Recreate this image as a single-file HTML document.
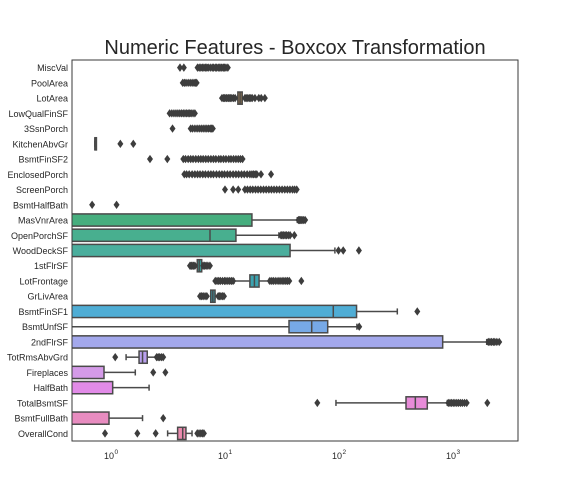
<!DOCTYPE html>
<html><head><meta charset="utf-8"><style>
body{margin:0;background:#fff;}
svg{display:block;font-family:"Liberation Sans",sans-serif;}
</style></head><body>
<svg id="chart" width="576" height="504" xmlns="http://www.w3.org/2000/svg">
<defs><clipPath id="plotclip"><rect x="72" y="60" width="446" height="381"/></clipPath></defs>
<text x="295" y="54" font-size="20" text-anchor="middle" fill="#262626">Numeric Features - Boxcox Transformation</text>
<g id="marks" clip-path="url(#plotclip)"></g>
<rect x="72" y="60" width="446" height="381" fill="none" stroke="#3a3a3a" stroke-width="1"/>
<g id="labels"></g>
</svg>
<script>
const categories=["MiscVal","PoolArea","LotArea","LowQualFinSF","3SsnPorch","KitchenAbvGr","BsmtFinSF2","EnclosedPorch","ScreenPorch","BsmtHalfBath","MasVnrArea","OpenPorchSF","WoodDeckSF","1stFlrSF","LotFrontage","GrLivArea","BsmtFinSF1","BsmtUnfSF","2ndFlrSF","TotRmsAbvGrd","Fireplaces","HalfBath","TotalBsmtSF","BsmtFullBath","OverallCond"];
const q1Values=[0,0,13.1,0,0,0.73,0,0,0,0,0,0,0,5.77,16.7,7.57,0,36.8,0,1.78,0,0,391,0,3.88];
const medianValues=[0,0,13.7,0,0,0.73,0,0,0,0,0,7.46,0,6.0,18.3,7.9,90,58.2,0,1.91,0,0,472,0,4.3];
const q3Values=[0,0,14.3,0,0,0.73,0,0,0,0,17.4,12.6,37.6,6.31,20.1,8.26,144,80.4,820,2.1,0.877,1.045,601,0.97,4.59];
const whiskerLow=[0,0,13.1,0,0,0.73,0,0,0,0,0,0,0,5.77,12.1,7.57,0,0,0,1.37,0,0,95,0,3.17];
const whiskerHigh=[0,0,14.3,0,0,0.73,0,0,0,0,43.5,30,93,6.31,24.7,8.26,328,145,1995,2.54,1.65,2.18,900,1.91,5.19];
const fliers=[
[4.07,4.4,5.8,6.0,6.2,6.4,6.6,6.8,7,7.2,7.5,7.8,8,8.3,8.5,8.8,9,9.3,9.5,9.8,10,10.3,10.7],
[4.3,4.45,4.6,4.8,5.0,5.2,5.4,5.55,5.7],
[9.5,9.8,10,10.3,10.5,10.8,11,11.3,11.6,12,12.4,15.1,15.5,16,16.5,17,17.5,18.5,20,21,22.6],
[3.3,3.45,3.6,3.75,3.9,4.05,4.2,4.35,4.5,4.65,4.8,4.95,5.1,5.3,5.5],
[3.5,5.05,5.25,5.5,5.75,6,6.25,6.5,6.75,7,7.25,7.5,7.7,7.9],
[1.22,1.585],
[2.22,3.15,4.35,4.55,4.8,5.05,5.3,5.6,5.9,6.2,6.5,6.85,7.2,7.6,8,8.4,8.9,9.3,9.8,10.3,10.9,11.4,12,12.6,13.2,13.8,14.4],
[4.44,4.65,4.9,5.2,5.5,5.8,6.1,6.45,6.8,7.2,7.6,8,8.5,9,9.5,10,10.6,11.2,11.9,12.6,13.3,14.1,14.9,15.8,16.7,17.4,18,18.6,19.2,20.9,25.6],
[10.1,11.9,13.2,15.1,15.9,16.8,17.7,18.7,19.7,20.8,22,23.2,24.5,25.8,27.2,28.7,30.3,32,33.8,35.6,37.5,39.5,41.2,43],
[0.69,1.13],
[44.5,45.5,46,47,48,49.5,51],
[31.3,32,33,34,35,36.3,37.6,41],
[100,110,151],
[4.98,5.1,5.2,5.35,5.5,6.5,6.7,6.9,7.15,7.45],
[8.3,8.6,8.9,9.2,9.6,10,10.3,10.7,11.1,11.5,11.9,25,26,27,28.2,29.5,30.7,32,33.2,34.5,35.7,37,47.2],
[6.1,6.3,6.5,6.75,7.0,8.8,9.05,9.3,9.6,9.9],
[491],
[152],
[2060,2130,2200,2280,2350,2450,2570],
[1.10,2.54,2.62,2.7,2.8,2.9],
[2.37,3.03],
[],
[65.2,918,950,980,1015,1050,1090,1130,1175,1220,1275,1333,2020],
[2.9],
[0.895,1.72,2.49,5.77,5.98,6.2,6.4,6.6]
];
const colors=["#e88a8a","#d99a5a","#9c7a4e","#c0a04a","#a8a84a","#8eae4a","#6db04a","#4ab05a","#45ae6a","#44ae74","#46ae7e","#48af8f","#4aae9d","#3a9e9a","#3ba3b0","#3a9aa8","#4fadd5","#77a9e6","#a3a8ec","#b9a0ee","#d49ae8","#e28be8","#e78bd8","#e88cc0","#eb8bae"];
const tickExps=[0,1,2,3];

const NS="http://www.w3.org/2000/svg";
const L=72,R=518,T=60,B=441;
const x0=110.5,dec=114;
function xs(v){ if(v<=0) return L-2; return Math.max(L-2,Math.min(R+2,x0+Math.log10(v)*dec)); }
const rowH=(B-T)/categories.length;
function yc(i){return T+rowH*(i+0.5);}
function mk(tag,attrs,parent){const e=document.createElementNS(NS,tag);for(const k in attrs)e.setAttribute(k,attrs[k]);parent.appendChild(e);return e;}
const marks=document.getElementById('marks');
const labels=document.getElementById('labels');
const edge="#4a4a4a";
categories.forEach((c,i)=>{
  const y=yc(i),h=rowH*0.8;
  const g=mk('g',{},marks);
  
  
  const hasBox=q3Values[i]>0;
  if(hasBox){
    const wl=whiskerLow[i],wh=whiskerHigh[i];
    const a=xs(q1Values[i]),b=xs(q3Values[i]);
    const ln=mk('line',{x1:xs(wl),x2:a,y1:y,y2:y,stroke:edge,'stroke-width':1.5},g);
    
    
    const ln2=mk('line',{x1:b,x2:xs(wh),y1:y,y2:y,stroke:edge,'stroke-width':1.5},g);
    
    
    if(wl>0){const cap=mk('line',{x1:xs(wl),x2:xs(wl),y1:y-h/4,y2:y+h/4,stroke:edge,'stroke-width':1.5},g);
      }
    if(wh>0){const cap=mk('line',{x1:xs(wh),x2:xs(wh),y1:y-h/4,y2:y+h/4,stroke:edge,'stroke-width':1.5},g);
      }
    const r=mk('rect',{x:Math.min(a,b),y:y-h/2,width:Math.max(1.5,Math.abs(b-a)),height:h,fill:colors[i],stroke:edge,'stroke-width':1.5},g);
    
    
    if(medianValues[i]>0){const m=mk('line',{x1:xs(medianValues[i]),x2:xs(medianValues[i]),y1:y-h/2,y2:y+h/2,stroke:edge,'stroke-width':1.5},g);
      }
  }
  fliers[i].forEach(v=>{
    const x=xs(v);
    const p=mk('path',{d:`M${x} ${y-4.2} L${x+3} ${y} L${x} ${y+4.2} L${x-3} ${y} Z`,fill:"#3d3d3d"},g);
    
    
  });
  const t=mk('text',{x:68,y:y+3.5,'font-size':9,'text-anchor':'end',fill:'#262626'},labels);
  t.textContent=c;
  
  
});
tickExps.forEach(e=>{
  const x=x0+e*dec;
  const t=mk('text',{x:x-1.5,y:459,'font-size':9,'text-anchor':'middle',fill:'#262626'},labels);
  t.textContent='10';
  
  
  const s=mk('text',{x:x+4,y:454,'font-size':6.5,'text-anchor':'start',fill:'#262626'},labels);
  s.textContent=String(e);
  
  
});
</script>
</body></html>
